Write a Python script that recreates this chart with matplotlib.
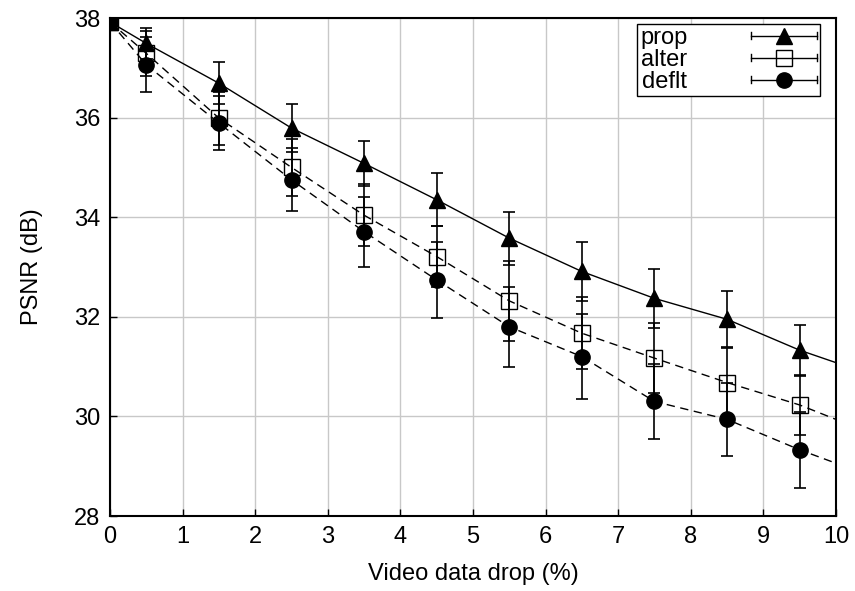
import numpy as np
import matplotlib
matplotlib.use('Agg')
import matplotlib.pyplot as plt
from matplotlib.lines import Line2D
from matplotlib.legend_handler import HandlerBase

plt.rcParams.update({
    'font.family': ['Liberation Sans', 'DejaVu Sans'],
    'font.size': 17,
})

# ---------------------------------------------------------------------------
# data; last point lies past the x range, clipped
# ---------------------------------------------------------------------------
drop = [0, 0.5, 1.5, 2.5, 3.5, 4.5, 5.5, 6.5, 7.5, 8.5, 9.5, 10.5]

prop = [37.92, 37.49, 36.69, 35.79, 35.08, 34.35, 33.58, 32.91, 32.37, 31.95, 31.33, 30.83]
prop_err = [0, 0.31, 0.42, 0.48, 0.45, 0.53, 0.53, 0.60, 0.60, 0.56, 0.51, 0]

alter = [37.92, 37.29, 35.99, 35.00, 34.04, 33.21, 32.32, 31.67, 31.17, 30.68, 30.23, 29.65]
alter_err = [0, 0.45, 0.53, 0.58, 0.62, 0.62, 0.80, 0.72, 0.70, 0.70, 0.60, 0]

deflt = [37.92, 37.06, 35.89, 34.75, 33.71, 32.74, 31.80, 31.20, 30.30, 29.94, 29.33, 28.79]
deflt_err = [0, 0.55, 0.55, 0.63, 0.70, 0.77, 0.80, 0.85, 0.75, 0.74, 0.76, 0]


class HandlerErrLine(HandlerBase):
    """gnuplot-like key sample: horizontal bar with end caps + marker"""
    def create_artists(self, legend, orig_handle, xdescent, ydescent,
                       width, height, fontsize, trans):
        x0, x1 = -xdescent, width - xdescent
        y = (height - ydescent) / 2
        c = height * 0.2
        arts = [
            Line2D([x0, x1], [y, y], color='black', lw=1.0),
            Line2D([x0, x0], [y - c, y + c], color='black', lw=1.0),
            Line2D([x1, x1], [y - c, y + c], color='black', lw=1.0),
            Line2D([(x0 + x1) / 2], [y], ls='none',
                   marker=orig_handle.get_marker(),
                   markersize=orig_handle.get_markersize(),
                   markerfacecolor=orig_handle.get_markerfacecolor(),
                   markeredgecolor='black', markeredgewidth=1.0),
        ]
        for a in arts:
            a.set_transform(trans)
        return arts


fig = plt.figure(figsize=(8.55, 5.91), dpi=100)
ax = fig.add_axes([0.1287, 0.1269, 0.849, 0.8426])

series = [
    ('prop', prop, prop_err, '^', 'black', '-'),
    ('alter', alter, alter_err, 's', 'none', (0, (6, 4))),
    ('deflt', deflt, deflt_err, 'o', 'black', (0, (6, 4))),
]

proxies = []
for name, y, e, mk, fc, ls in series:
    ax.plot(drop, y, ls=ls, color='black', lw=1.0, zorder=3)
    ax.errorbar(drop, y, yerr=e, fmt='none', ecolor='black', elinewidth=1.2,
                capsize=4, capthick=1.2, zorder=3)
    ax.plot(drop, y, ls='none', marker=mk, markersize=11,
            markerfacecolor=fc, markeredgecolor='black',
            markeredgewidth=1.0, zorder=4)
    proxies.append(Line2D([], [], marker=mk, markersize=11,
                          markerfacecolor=fc, label=name))

ax.set_xlim(0, 10)
ax.set_ylim(28, 38)
ax.set_xticks(range(0, 11))
ax.set_yticks(range(28, 39, 2))
ax.grid(True, color='#c8c8c8', lw=1.0)
ax.set_axisbelow(True)
ax.tick_params(direction='in', length=5, width=1.0, pad=7)
for s in ax.spines.values():
    s.set_linewidth(1.5)

ax.set_xlabel('Video data drop (%)', labelpad=11)
ax.set_ylabel('PSNR (dB)', labelpad=22)

leg = ax.legend(handles=proxies, handler_map={Line2D: HandlerErrLine()},
                loc='upper right', bbox_to_anchor=(0.978, 0.988),
                borderaxespad=0, markerfirst=False, handlelength=2.8,
                handletextpad=2.7, labelspacing=0.0, borderpad=0.12,
                fancybox=False, framealpha=1.0, edgecolor='black')
leg.get_frame().set_linewidth(1.0)

fig.savefig('out.png', dpi=100, facecolor='white')
